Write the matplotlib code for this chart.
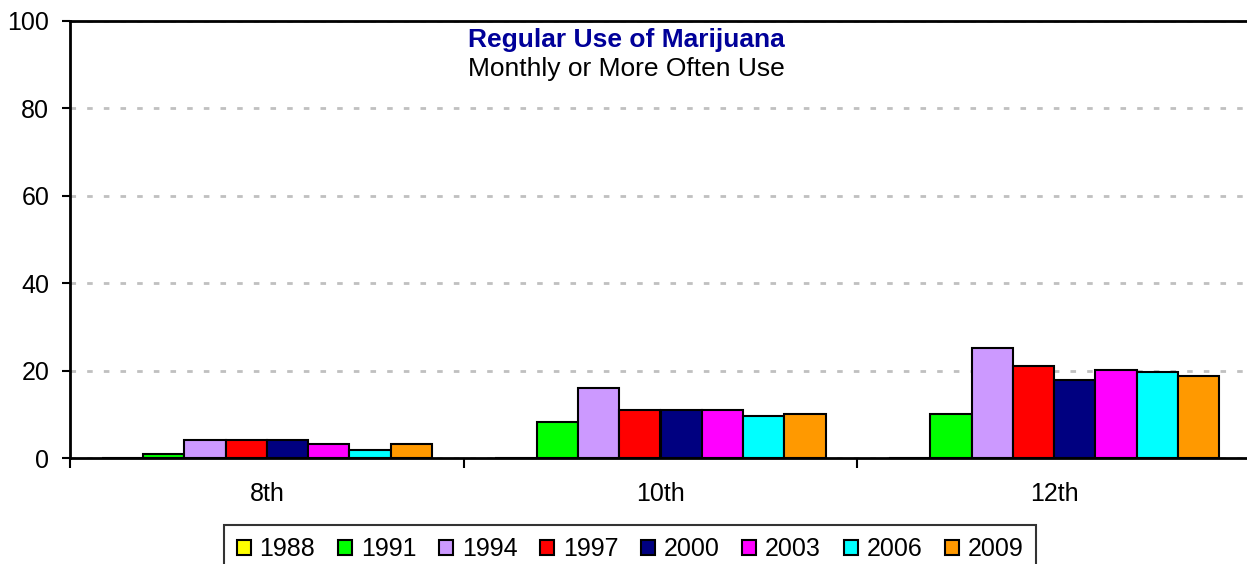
import matplotlib.pyplot as plt
from matplotlib.patches import Patch

plt.rcParams['font.family'] = ['Liberation Sans', 'DejaVu Sans']

grades = ['8th', '10th', '12th']
years = ['1988', '1991', '1994', '1997', '2000', '2003', '2006', '2009']
colors = ['#ffff00', '#00ff00', '#cc99ff', '#ff0000', '#000080', '#ff00ff', '#00ffff', '#ff9900']

# monthly-or-more use (%) by year, per grade (8th, 10th, 12th)
use_1988 = [0, 0, 0]
use_1991 = [0.9, 8.3, 10.0]
use_1994 = [4.1, 16.1, 25.2]
use_1997 = [4.1, 11.0, 21.1]
use_2000 = [4.1, 11.0, 17.8]
use_2003 = [3.2, 11.0, 20.1]
use_2006 = [1.8, 9.6, 19.7]
use_2009 = [3.2, 10.1, 18.8]
series = [use_1988, use_1991, use_1994, use_1997, use_2000, use_2003, use_2006, use_2009]

W, H = 1247, 564
fig = plt.figure(figsize=(W / 100, H / 100), dpi=100)
ax = fig.add_axes([70 / W, 1 - 458 / H, 1181 / W, 437 / H])

bar_w = 0.1048
start = -4 * bar_w
for i, (vals, c) in enumerate(zip(series, colors)):
    xs = [g + 0.5 + start + i * bar_w for g in range(len(grades))]
    ax.bar(xs, vals, width=bar_w, align='edge', color=c, edgecolor='black', linewidth=1.5, zorder=3)

ax.set_xlim(0, 3)
ax.set_ylim(0, 100)
ax.set_yticks([0, 20, 40, 60, 80, 100])
ax.tick_params(axis='y', labelsize=18, length=6, width=1.5, pad=9)
ax.set_xticks([0, 1, 2, 3])
ax.set_xticklabels([])
ax.set_xticks([0.5, 1.5, 2.5], minor=True)
ax.set_xticklabels(grades, minor=True, fontsize=18)
ax.tick_params(axis='x', which='major', length=7, width=1.5)
ax.tick_params(axis='x', which='minor', length=0, pad=17)

ax.yaxis.grid(True, color='#c0c0c0', linestyle=(0, (2, 4)), linewidth=2, zorder=0)
for s in ['left', 'bottom', 'top']:
    ax.spines[s].set_linewidth(2)
    ax.spines[s].set_color('black')
ax.spines['right'].set_visible(False)

fig.text(626 / W, 1 - 47 / H, 'Regular Use of Marijuana', ha='center', va='baseline',
         fontsize=19, fontweight='bold', color='#000099')
fig.text(626 / W, 1 - 76 / H, 'Monthly or More Often Use', ha='center', va='baseline',
         fontsize=19, color='black')

handles = [Patch(facecolor=c, edgecolor='black', linewidth=1.5) for c in colors]
leg = fig.legend(handles, years, ncol=8, loc='upper left', bbox_to_anchor=(224 / W, 1 - 525 / H),
                 fontsize=18, frameon=True, fancybox=False, handlelength=0.56, handleheight=0.56,
                 handletextpad=0.36, columnspacing=0.9, borderpad=0.5, borderaxespad=0)
leg.get_frame().set_edgecolor('black')
leg.get_frame().set_linewidth(1.5)

fig.savefig('out.png', dpi=100)
